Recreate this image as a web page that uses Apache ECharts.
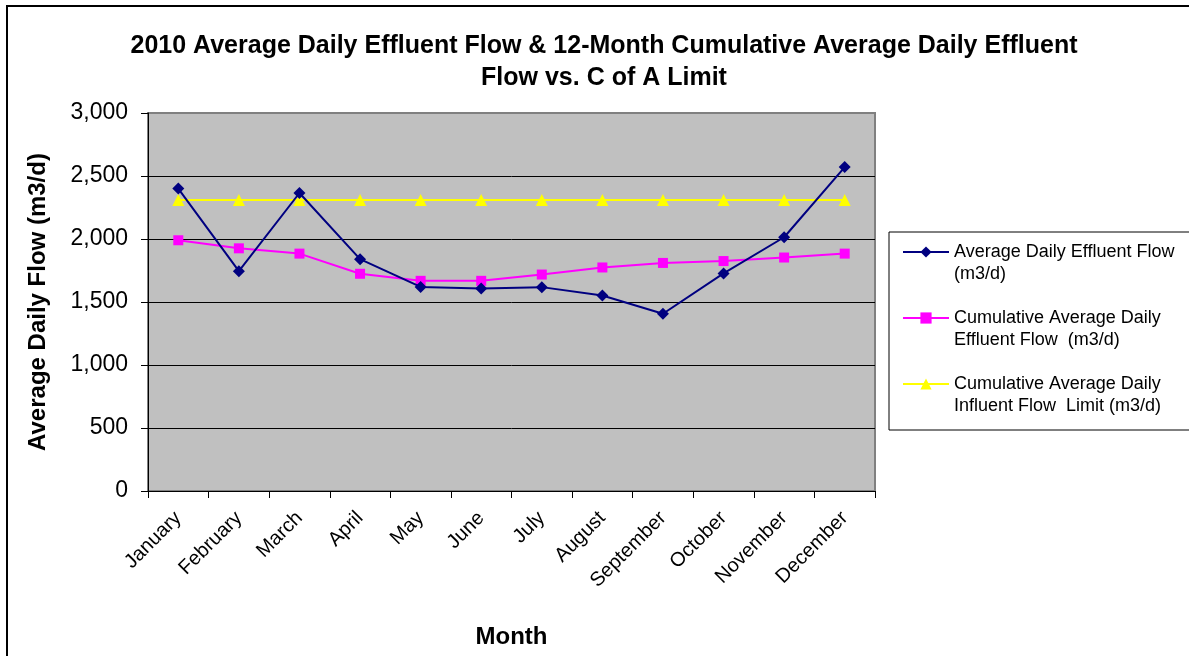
<!DOCTYPE html>
<html>
<head>
<meta charset="utf-8">
<script src="https://cdn.jsdelivr.net/npm/echarts@6/dist/echarts.min.js"></script>
<style>
  html, body { margin: 0; padding: 0; background: #fff; }
  #flowChart { width: 1189px; height: 656px; }
</style>
</head>
<body>
<div id="flowChart"></div>
<script>
const months = ['January', 'February', 'March', 'April', 'May', 'June',
  'July', 'August', 'September', 'October', 'November', 'December'];
const effluentFlow = [2400, 1745, 2365, 1840, 1620, 1608, 1618, 1552, 1407, 1727, 2014, 2571];
const cumulativeFlow = [1990, 1926, 1884, 1724, 1668, 1668, 1718, 1774, 1810, 1825, 1853, 1884];
const influentLimit = [2310, 2310, 2310, 2310, 2310, 2310, 2310, 2310, 2310, 2310, 2310, 2310];
const yTicks = [0, 500, 1000, 1500, 2000, 2500, 3000];

const font = 'Liberation Sans, Arial, sans-serif';
var flowChart = echarts.init(document.getElementById('flowChart'));

option = {
  animation: false,
  textStyle: { fontFamily: font, color: '#000' },
  title: {
    text: '2010 Average Daily Effluent Flow & 12-Month Cumulative Average Daily Effluent\nFlow vs. C of A Limit',
    left: 599,
    textAlign: 'center',
    top: 25,
    textStyle: { fontSize: 25, fontWeight: 'bold', lineHeight: 32, color: '#000', fontFamily: font }
  },
  graphic: [
    {
      type: 'rect',
      shape: { x: 7, y: 6, width: 1200, height: 670 },
      style: { fill: 'none', stroke: '#000', lineWidth: 2 },
      z: -1
    },
    {
      type: 'rect',
      shape: { x: 889, y: 232, width: 320, height: 198 },
      style: { fill: '#fff', stroke: '#000', lineWidth: 1 },
      z: 0
    }
  ],
  legend: {
    orient: 'vertical',
    left: 897,
    top: 214,
    itemWidth: 46,
    itemHeight: 14,
    itemGap: 0,
    // leading blank line puts the first text line level with the icon
    formatter: function (name) { return '\n' + name; },
    textStyle: { fontSize: 18, lineHeight: 22, color: '#000', fontFamily: font },
    z: 5,
    data: [
      { name: 'Average Daily Effluent Flow\n(m3/d)' },
      { name: 'Cumulative Average Daily\nEffluent Flow  (m3/d)' },
      { name: 'Cumulative Average Daily\nInfluent Flow  Limit (m3/d)' }
    ]
  },
  grid: {
    left: 148,
    top: 113,
    right: 314,
    bottom: 165,
    outerBoundsMode: 'none',
    containLabel: false,
    show: true,
    backgroundColor: '#C0C0C0',
    borderColor: '#808080',
    borderWidth: 2
  },
  xAxis: {
    type: 'category',
    data: months,
    boundaryGap: true,
    name: 'Month',
    nameLocation: 'middle',
    nameGap: 134,
    nameTextStyle: { fontSize: 24, fontWeight: 'bold', color: '#000' },
    axisLine: { lineStyle: { color: '#000', width: 1 } },
    axisTick: { show: true, length: 7, lineStyle: { color: '#000' } },
    axisLabel: { rotate: 45, fontSize: 20, color: '#000', margin: 24, interval: 0 }
  },
  yAxis: {
    type: 'value',
    min: 0,
    max: 3000,
    interval: 500,
    name: 'Average Daily Flow (m3/d)',
    nameLocation: 'middle',
    nameGap: 98,
    nameTextStyle: { fontSize: 24, fontWeight: 'bold', color: '#000' },
    axisLine: { show: true, lineStyle: { color: '#000', width: 1 } },
    axisTick: { show: true, length: 7, lineStyle: { color: '#000' } },
    axisLabel: {
      fontSize: 23,
      color: '#000',
      margin: 20,
      formatter: function (v) { return v.toLocaleString('en-US'); }
    },
    splitLine: { show: true, showMaxLine: false, lineStyle: { color: '#000', width: 1 } }
  },
  series: [
    {
      type: 'line',
      name: 'Average Daily Effluent Flow\n(m3/d)',
      data: effluentFlow,
      color: '#000080',
      symbol: 'diamond',
      symbolSize: 12,
      lineStyle: { width: 2 },
      z: 4
    },
    {
      type: 'line',
      name: 'Cumulative Average Daily\nEffluent Flow  (m3/d)',
      data: cumulativeFlow,
      color: '#FF00FF',
      symbol: 'rect',
      symbolSize: 10,
      lineStyle: { width: 2 },
      z: 3
    },
    {
      type: 'line',
      name: 'Cumulative Average Daily\nInfluent Flow  Limit (m3/d)',
      data: influentLimit,
      color: '#FFFF00',
      symbol: 'triangle',
      symbolSize: 12,
      lineStyle: { width: 2 },
      z: 2
    }
  ]
};
flowChart.setOption(option);
</script>
</body>
</html>
